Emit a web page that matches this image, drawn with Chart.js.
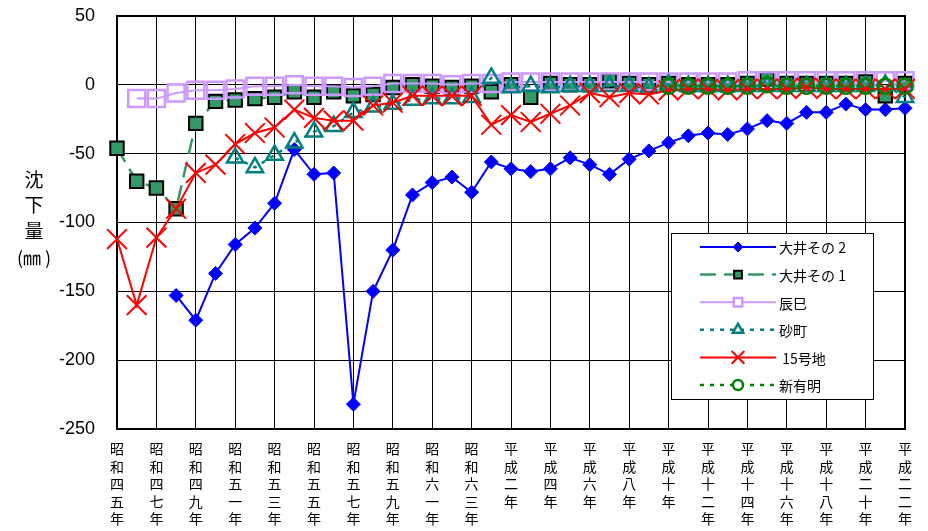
<!DOCTYPE html>
<html>
<head>
<meta charset="utf-8">
<script src="https://cdn.jsdelivr.net/npm/chart.js@4/dist/chart.umd.min.js"></script>
<style>
html,body{margin:0;padding:0;background:#fff}
canvas{display:block}
</style>
</head>
<body>
<canvas id="c" width="928" height="531"></canvas>
<script>
// 年 (1970 = 昭和45年 ... 2010 = 平成22年)
const years = [1970,1971,1972,1973,1974,1975,1976,1977,1978,1979,
	1980,1981,1982,1983,1984,1985,1986,1987,1988,1989,
	1990,1991,1992,1993,1994,1995,1996,1997,1998,1999,
	2000,2001,2002,2003,2004,2005,2006,2007,2008,2009,2010]
// labels shown every other year
const tickLabels = ['昭和四五年','昭和四七年','昭和四九年','昭和五一年','昭和五三年','昭和五五年',
	'昭和五七年','昭和五九年','昭和六一年','昭和六三年','平成二年','平成四年','平成六年','平成八年',
	'平成十年','平成十二年','平成十四年','平成十六年','平成十八年','平成二十年','平成二二年']
const yTicks = [50,0,-50,-100,-150,-200,-250]

const seriesNames = ['大井その 2','大井その 1','辰巳','砂町',' 15号地','新有明']

const oi2 = [null,null,null,-153,-171,-137,-116,-104,-86,-47,
	-65,-64,-232,-150,-120,-80,-71,-67,-78,-56,
	-61,-63,-61,-53,-58,-65,-54,-48,-42,-37,
	-35,-36,-32,-26,-28,-20,-20,-14,-18,-18,-17]
const oi1 = [-46,-70,-75,-90,-28,-12,-11,-10,-9,-5,
	-9,-5,-8,-7,-2,0,-1,-2,-1,-5,
	0,-9,1,0,0,3,1,0,1,0,
	0,0,1,4,1,1,1,1,2,-8,1]
const tatsumi = [null,-10,-10,-6,-4,-4,-3,-1,-1,0,
	-1,-1,-2,-1,1,1,1,0,1,1,
	2,2,2,2,2,2,2,2,2,2,
	2,2,3,3,3,3,3,3,3,3,3]
const sunamachi = [null,null,null,null,null,null,-53,-60,-51,-42,
	-34,-30,-20,-16,-14,-11,-10,-10,-9,5,
	-2,-1,-2,-1,-1,-1,-1,-2,0,-1,
	-1,-1,-1,-1,-1,-1,-1,-1,-1,0,-9]
const no15 = [-112,-160,-111,-90,-64,-58,-43,-35,-31,-18,
	-24,-26,-26,-15,-13,-8,-8,-8,-8,-29,
	-22,-27,-21,-15,-6,-9,-6,-7,-4,-3,
	-3,-4,-3,-3,-3,-2,-3,-3,-3,-3,-3]
const shinariake = [null,null,null,null,null,null,null,null,null,null,
	null,null,null,null,null,null,null,null,null,null,
	null,null,null,null,null,null,null,null,-1,-1,
	-1,-1,-1,0,-1,-1,-1,-1,-1,-1,-1]

const JP = '"Noto Sans CJK JP", sans-serif'
const NUM = '"Liberation Sans", Arial, sans-serif'

function ds(label, data, color, extra){
	return Object.assign({
		label: label,
		data: data,
		borderColor: color,
		backgroundColor: color,
		pointBorderColor: color,
		pointBackgroundColor: color,
		borderWidth: 2,
		tension: 0,
		clip: false,
		spanGaps: false
	}, extra)
}

const datasets = [
	ds(seriesNames[0], oi2, '#0000FF', {pointStyle:'rectRot', pointRadius:7, pointBorderWidth:1, order:6, legendR:5}),
	ds(seriesNames[1], oi1, '#339966', {borderDash:[16,8], borderWidth:2.5, pointStyle:'rect', pointRadius:9.5,
		pointBorderColor:'#000', pointBorderWidth:2, order:5, legendR:5.5}),
	ds(seriesNames[2], tatsumi, '#CC99FF', {pointStyle:'rect', pointRadius:12, pointBackgroundColor:'rgba(0,0,0,0)',
		pointBorderWidth:2.5, order:4, legendR:6}),
	ds(seriesNames[3], sunamachi, '#008080', {borderDash:[4,6], borderWidth:2.5, pointStyle:'triangle', pointRadius:9.5,
		pointBackgroundColor:'rgba(0,0,0,0)', pointBorderWidth:2.5, order:3, legendR:6}),
	ds(seriesNames[4], no15, '#FF0000', {pointStyle:'crossRot', pointRadius:14, pointBorderWidth:2, order:2, legendR:9}),
	ds(seriesNames[5], shinariake, '#008000', {borderDash:[4,6], borderWidth:2.5, pointStyle:'circle', pointRadius:7.5,
		pointBackgroundColor:'rgba(0,0,0,0)', pointBorderWidth:2.5, order:1, legendR:5})
]

// plot frame
const frame = {
	id:'frame',
	beforeDatasetsDraw(chart){
		const a = chart.chartArea, ctx = chart.ctx
		ctx.save()
		ctx.strokeStyle = '#000'
		ctx.lineWidth = 2
		ctx.strokeRect(a.left, a.top, a.right - a.left, a.bottom - a.top)
		ctx.restore()
	}
}

// y title, stacked characters
const yTitle = {
	id:'yTitle',
	afterDraw(chart){
		const ctx = chart.ctx
		ctx.save()
		ctx.fillStyle = '#000'
		ctx.textAlign = 'center'
		ctx.textBaseline = 'middle'
		ctx.font = '19px ' + JP
		const rows = ['沈','下','量','(㎜ )']
		const ys = [180,205,231,258]
		rows.forEach((t,i)=>{
			if(i==3) ctx.font = '18px ' + JP
			ctx.fillText(t, 34, ys[i])
		})
		ctx.restore()
	}
}

// legend box inside the plot
const legendBox = {
	id:'legendBox',
	afterDatasetsDraw(chart){
		const ctx = chart.ctx
		const x0 = 671, y0 = 233, w = 202, h = 166
		ctx.save()
		ctx.fillStyle = '#fff'
		ctx.fillRect(x0, y0, w, h)
		ctx.strokeStyle = '#000'
		ctx.lineWidth = 1
		ctx.strokeRect(x0 + 0.5, y0 + 0.5, w, h)
		chart.data.datasets.forEach((d,i)=>{
			const y = 247 + i * 27.6
			ctx.save()
			ctx.strokeStyle = d.borderColor
			ctx.lineWidth = d.borderWidth
			ctx.setLineDash(d.borderDash || [])
			ctx.beginPath()
			ctx.moveTo(700, y)
			ctx.lineTo(776, y)
			ctx.stroke()
			ctx.setLineDash([])
			ctx.strokeStyle = d.pointBorderColor
			ctx.fillStyle = d.pointBackgroundColor
			ctx.lineWidth = d.pointBorderWidth
			if(d.pointBackgroundColor == 'rgba(0,0,0,0)'){
				ctx.fillStyle = '#fff'
			}
			Chart.helpers.drawPoint(ctx, {pointStyle:d.pointStyle, radius:d.legendR, borderWidth:d.pointBorderWidth, rotation:0}, 738, y)
			ctx.restore()
			ctx.fillStyle = '#000'
			ctx.font = '14px ' + JP
			ctx.textAlign = 'left'
			ctx.textBaseline = 'middle'
			ctx.fillText(d.label, 779, y + 1)
		})
		ctx.restore()
	}
}

new Chart(document.getElementById('c'), {
	type:'line',
	data:{labels: years, datasets: datasets},
	options:{
		responsive:false,
		animation:false,
		layout:{padding:{left:0, right:23, top:13, bottom:0}},
		plugins:{legend:{display:false}, tooltip:{enabled:false}},
		scales:{
			x:{
				type:'category',
				offset:false,
				grid:{offset:false, drawTicks:false, lineWidth:1,
					color:(c)=> c.index % 2 === 0 ? '#000' : 'rgba(0,0,0,0)'},
				border:{color:'#000', width:2},
				ticks:{autoSkip:false, maxRotation:0, minRotation:0, padding:11, color:'#000',
					font:{family:JP, size:14, lineHeight:1.25},
					callback:(v,i)=> i % 2 === 0 ? tickLabels[i/2].split('') : ''},
				afterFit:(s)=>{ s.height = 102; s.paddingLeft = 0; s.paddingRight = 0; s.paddingTop = 0; s.paddingBottom = 0 }
			},
			y:{
				min:yTicks[yTicks.length-1],
				max:yTicks[0],
				ticks:{stepSize:50, padding:22, color:'#000', font:{family:NUM, size:18}},
				grid:{color:'#000', lineWidth:1, drawTicks:false},
				border:{color:'#000', width:2},
				afterFit:(s)=>{ s.width = 117; s.paddingTop = 0; s.paddingBottom = 0; s.paddingLeft = 0; s.paddingRight = 0 }
			}
		}
	},
	plugins:[frame, legendBox, yTitle]
})
</script>
</body>
</html>
